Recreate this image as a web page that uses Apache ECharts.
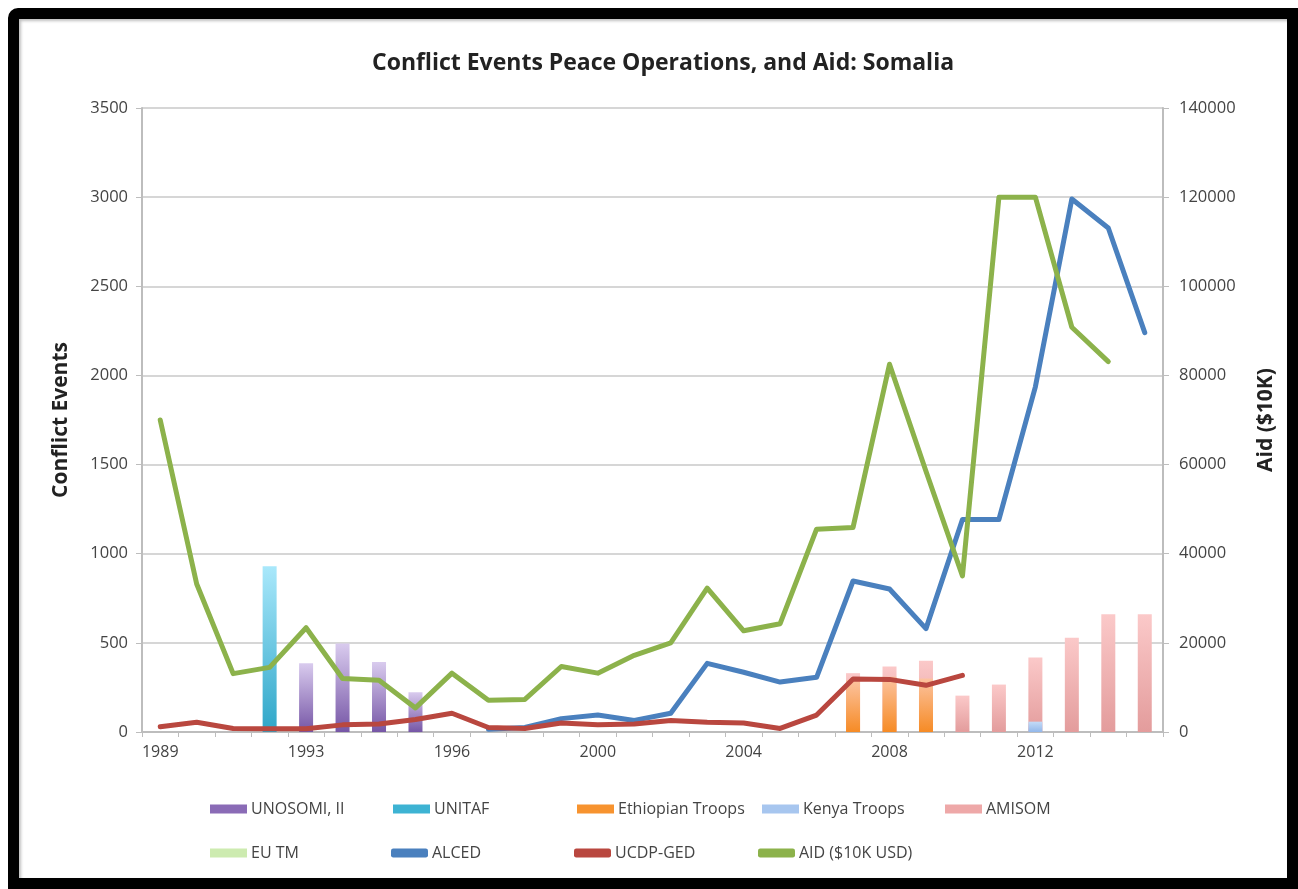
<!DOCTYPE html>
<html>
<head>
<meta charset="utf-8">
<script src="https://cdn.jsdelivr.net/npm/echarts@6/dist/echarts.min.js"></script>
<style>
  html, body { margin: 0; padding: 0; background: #fff; }
  #frame {
    position: absolute; left: 8px; top: 8px; width: 1290px; height: 881px;
    box-sizing: border-box; border: 11px solid #000; border-radius: 10px 0 0 0;
    box-shadow: inset 2px 2px 3px rgba(0,0,0,0.25);
  }
  #chart { position: absolute; left: 0; top: 0; width: 1298px; height: 889px; }
</style>
</head>
<body>
<div id="frame"></div>
<div id="chart"></div>
<script>
// categories (one year repeats in the source sheet, labels every 4th)
const years = ['1989', '1990', '1991', '1992', '1993', '1993', '1994', '1995', '1996', '1997',
  '1998', '1999', '2000', '2001', '2002', '2003', '2004', '2005', '2006', '2007',
  '2008', '2009', '2010', '2011', '2012', '2013', '2014', '2015'];

const leftTicks = [0, 3500, 500];
const rightTicks = [0, 140000, 20000];

const unosom = [null, null, null, null, 386, 496, 392, 223, null, null, null, null, null, null,
  null, null, null, null, null, null, null, null, null, null, null, null, null, null];
const unitaf = [null, null, null, 930, null, null, null, null, null, null, null, null, null, null,
  null, null, null, null, null, null, null, null, null, null, null, null, null, null];
const ethiopian = [null, null, null, null, null, null, null, null, null, null, null, null, null, null,
  null, null, null, null, null, 290, 310, 300, null, null, null, null, null, null];
const kenya = [null, null, null, null, null, null, null, null, null, null, null, null, null, null,
  null, null, null, null, null, null, null, null, null, null, 58, null, null, null];
const amisom = [null, null, null, null, null, null, null, null, null, null, null, null, null, null,
  null, null, null, null, null, 330, 368, 400, 204, 266, 418, 529, 660, 660];
const eutm = [null, null, null, null, null, null, null, null, null, null, null, null, null, null,
  null, null, null, null, null, null, null, null, null, null, null, null, null, null];

const alced = [null, null, null, null, null, null, null, null, null, 15, 25, 75, 95, 65,
  105, 385, 335, 280, 307, 847, 802, 580, 1192, 1192, 1936, 2990, 2827, 2240];
const ucdp = [30, 55, 20, 18, 18, 40, 45, 70, 105, 25, 20, 50, 40, 45,
  65, 55, 50, 20, 95, 297, 295, 262, 318, null, null, null, null, null];
const aid = [70000, 33200, 13100, 14500, 23400, 12000, 11600, 5400, 13200, 7100, 7300, 14700, 13200, 17200,
  20000, 32300, 22700, 24300, 45500, 45900, 82500, 58500, 35000, 120000, 120000, 90800, 83100, null];

const FONT = '"Open Sans", "Liberation Sans", sans-serif';

function grad(top, bottom) {
  return new echarts.graphic.LinearGradient(0, 0, 0, 1, [
    { offset: 0, color: top },
    { offset: 1, color: bottom }
  ]);
}

const colors = {
  unosom: '#8a6bb6', unitaf: '#3db3d3', ethiopian: '#f7932f', kenya: '#a7c6ef',
  amisom: '#eea8a8', eutm: '#cdebb0', alced: '#4a80be', ucdp: '#b9473f', aid: '#8cb24b'
};

function bar(name, data, top, bottom, legendColor) {
  return {
    name, type: 'bar', data, barWidth: 14, barGap: '-100%',
    color: legendColor,
    itemStyle: { color: grad(top, bottom) }
  };
}

function line(name, data, color, yIndex) {
  return {
    name, type: 'line', data, yAxisIndex: yIndex, color,
    symbol: 'none', lineStyle: { width: 5, color, cap: 'round', join: 'round' }
  };
}

// legend grid: two rows, fixed columns like the spreadsheet legend
const legendItems = [
  ['UNOSOMI, II', 'rect', colors.unosom, 210, 801],
  ['UNITAF', 'rect', colors.unitaf, 393, 801],
  ['Ethiopian Troops', 'rect', colors.ethiopian, 577, 801],
  ['Kenya Troops', 'rect', colors.kenya, 762, 801],
  ['AMISOM', 'rect', colors.amisom, 945, 801],
  ['EU TM', 'rect', colors.eutm, 210, 845],
  ['ALCED', 'roundRect', colors.alced, 391, 845],
  ['UCDP-GED', 'roundRect', colors.ucdp, 574, 845],
  ['AID ($10K USD)', 'roundRect', colors.aid, 758, 845]
];

const legends = legendItems.map(([name, icon, color, left, top]) => ({
  left, top, itemWidth: 37, itemHeight: 9, padding: 0,
  textStyle: { fontFamily: FONT, fontSize: 16, color: '#444', padding: [0, 0, 0, -1] },
  data: [{ name, icon, itemStyle: { color } }]
}));

const chart = echarts.init(document.getElementById('chart'));
chart.setOption({
  animation: false,
  title: {
    text: 'Conflict Events Peace Operations, and Aid: Somalia',
    left: 367, top: 47,
    textStyle: { fontFamily: FONT, fontSize: 23, fontWeight: 'bold', color: '#222' }
  },
  grid: { left: 142, right: 135, top: 108, bottom: 157 },
  legend: legends,
  xAxis: {
    type: 'category', data: years, boundaryGap: true,
    axisLine: { lineStyle: { color: '#bdbdbd', width: 2 } },
    axisTick: { show: true, interval: 0, length: 5, lineStyle: { color: '#bdbdbd' } },
    axisLabel: { interval: 3, margin: 12, fontFamily: FONT, fontSize: 16, color: '#444' },
    splitLine: { show: false }
  },
  yAxis: [
    {
      type: 'value', min: leftTicks[0], max: leftTicks[1], interval: leftTicks[2],
      name: 'Conflict Events', nameLocation: 'middle', nameGap: 70,
      nameTextStyle: { fontFamily: FONT, fontSize: 21, fontWeight: 'bold', color: '#222' },
      axisLine: { show: true, lineStyle: { color: '#bdbdbd', width: 2 } },
      axisTick: { show: true, length: 6, lineStyle: { color: '#bdbdbd' } },
      axisLabel: { margin: 14, fontFamily: FONT, fontSize: 16.5, color: '#444', formatter: v => String(v) },
      splitLine: { lineStyle: { color: '#d6d6d6', width: 2 } }
    },
    {
      type: 'value', min: rightTicks[0], max: rightTicks[1], interval: rightTicks[2],
      name: 'Aid ($10K)', nameLocation: 'middle', nameGap: 93,
      nameTextStyle: { fontFamily: FONT, fontSize: 21, fontWeight: 'bold', color: '#222' },
      axisLine: { show: true, lineStyle: { color: '#bdbdbd', width: 2 } },
      axisTick: { show: true, length: 6, lineStyle: { color: '#bdbdbd' } },
      axisLabel: { margin: 16, fontFamily: FONT, fontSize: 16.5, color: '#444', formatter: v => String(v) },
      splitLine: { show: false }
    }
  ],
  series: [
    bar('AMISOM', amisom, '#fbc9c9', '#e39c9c', colors.amisom),
    bar('UNOSOMI, II', unosom, '#d9cbee', '#7656a6', colors.unosom),
    bar('UNITAF', unitaf, '#a9e8fb', '#2ea6c8', colors.unitaf),
    bar('Ethiopian Troops', ethiopian, '#fcc3a0', '#f68b25', colors.ethiopian),
    bar('Kenya Troops', kenya, '#c4dbf7', '#92b7ea', colors.kenya),
    bar('EU TM', eutm, '#e2f4cf', '#b9df92', colors.eutm),
    line('ALCED', alced, colors.alced, 0),
    line('UCDP-GED', ucdp, colors.ucdp, 0),
    line('AID ($10K USD)', aid, colors.aid, 1)
  ]
});
</script>
</body>
</html>
